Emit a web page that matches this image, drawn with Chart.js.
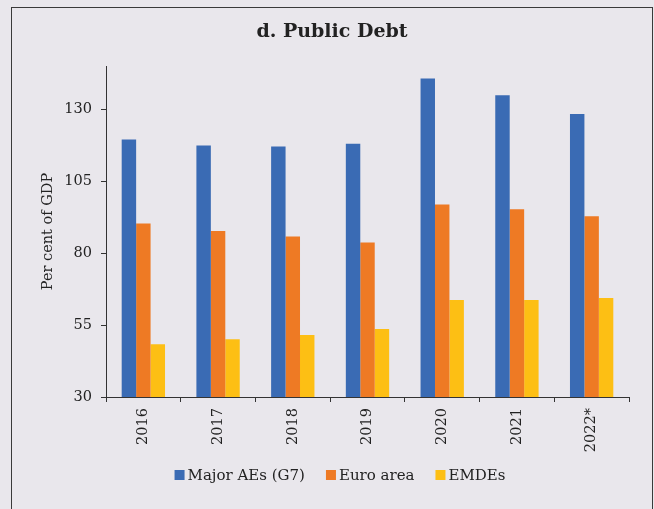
<!DOCTYPE html>
<html>
<head>
<meta charset="utf-8">
<title>Public Debt</title>
<script src="https://cdn.jsdelivr.net/npm/chart.js@4/dist/chart.umd.min.js"></script>
<style>
  html, body { margin: 0; padding: 0; background: #e9e7ec; }
  #wrap { position: relative; width: 654px; height: 509px; overflow: hidden; }
  #frame {
    position: absolute; left: 11px; top: 7px; width: 642px; height: 520px;
    border: 1.5px solid #3a3a3a; box-sizing: border-box;
  }
  canvas { position: absolute; left: 0; top: 0; }
</style>
</head>
<body>
<div id="wrap">
  <div id="frame"></div>
  <canvas id="debtChart" width="654" height="509"></canvas>
</div>
<script>
// per cent of GDP
const years = ["2016", "2017", "2018", "2019", "2020", "2021", "2022*"];
const majorAEs = [119.5, 117.4, 117.0, 118.0, 140.7, 134.8, 128.3];
const euroArea = [90.3, 87.7, 85.8, 83.7, 96.9, 95.2, 92.8];
const emdes = [48.3, 50.1, 51.5, 53.6, 63.7, 63.7, 64.4];
const yTicks = [30, 55, 80, 105, 130];

const serif = "'DejaVu Serif', 'Liberation Serif', serif";
const ink = "#222222";

Chart.defaults.font.family = serif;
Chart.defaults.font.size = 14.5;
Chart.defaults.color = ink;

// legend drawn with small gap between swatch and text
const compactLegend = {
  id: "compactLegend",
  afterDraw(chart) {
    const ctx = chart.ctx;
    const box = 10, gap = 3, spacing = 21, cx = 340, cy = 475;
    ctx.save();
    ctx.font = "15px " + serif;
    ctx.textBaseline = "middle";
    const items = chart.data.datasets.map(ds => ({
      label: ds.label, color: ds.backgroundColor, w: ctx.measureText(ds.label).width
    }));
    const total = items.reduce((s, it) => s + box + gap + it.w, 0) + spacing * (items.length - 1);
    let x = cx - total / 2;
    items.forEach(it => {
      ctx.fillStyle = it.color;
      ctx.fillRect(x, cy - box / 2, box, box);
      ctx.fillStyle = ink;
      ctx.fillText(it.label, x + box + gap, cy + 1);
      x += box + gap + it.w + spacing;
    });
    ctx.restore();
  }
};

new Chart(document.getElementById("debtChart"), {
  type: "bar",
  data: {
    labels: years,
    datasets: [
      { label: "Major AEs (G7)", data: majorAEs, backgroundColor: "#3a6bb4" },
      { label: "Euro area", data: euroArea, backgroundColor: "#ee7a24" },
      { label: "EMDEs", data: emdes, backgroundColor: "#fdbf14" }
    ]
  },
  options: {
    responsive: false,
    animation: false,
    devicePixelRatio: 1,
    categoryPercentage: 0.58,
    barPercentage: 1.0,
    layout: { padding: { top: 8, left: 35, right: 25, bottom: 0 } },
    plugins: {
      legend: { display: false },
      tooltip: { enabled: false },
      title: {
        display: true,
        text: "d. Public Debt",
        color: ink,
        font: { family: serif, size: 19, weight: "bold" },
        padding: { top: 12.6, bottom: 22.6 }
      }
    },
    scales: {
      x: {
        grid: { drawOnChartArea: false, drawTicks: true, tickLength: 5, color: "#333" },
        border: { color: "#333", width: 1 },
        ticks: {
          color: ink,
          font: { family: serif, size: 14.5 },
          minRotation: 90,
          maxRotation: 90,
          padding: 6
        },
        afterFit(scale) { scale.height = 112; }
      },
      y: {
        min: 30,
        max: 145,
        grid: { drawOnChartArea: false, drawTicks: true, tickLength: 5, color: "#333" },
        border: { color: "#333", width: 1 },
        ticks: {
          stepSize: 25,
          includeBounds: false,
          color: ink,
          font: { family: serif, size: 14.5 },
          padding: 9
        },
        afterBuildTicks(scale) {
          scale.ticks = yTicks.map(v => ({ value: v }));
        },
        title: {
          display: true,
          text: "Per cent of GDP",
          color: ink,
          font: { family: serif, size: 14.5 },
          padding: { top: 4.3, bottom: 0 }
        },
        afterFit(scale) { scale.width = 71; }
      }
    }
  },
  plugins: [compactLegend]
});
</script>
</body>
</html>
